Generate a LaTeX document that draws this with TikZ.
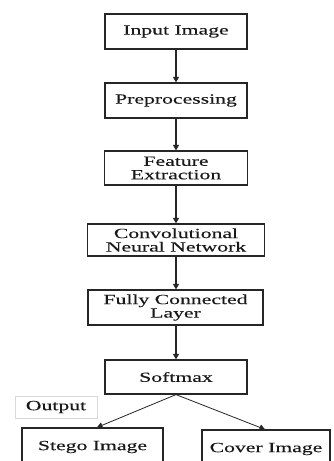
\documentclass[tikz,border=0pt]{standalone}
\usepackage{fontspec}
\setmainfont{Liberation Serif}[FakeStretch=1.55, FakeBold=0.2]
\usetikzlibrary{arrows.meta}

\tikzset{
  stage/.style={draw=black!85, line width=1.2pt, fill=white, inner sep=0pt,
    align=center, font=\fontsize{14}{13.5}\selectfont, text=black!90},
  flow/.style={draw=black!85, line width=1.2pt,
    -{Triangle[length=5.5pt,width=6pt]}},
  tag/.style={draw=black!15, line width=0.6pt, inner sep=0pt,
    font=\fontsize{14}{14}\selectfont, text=black!90}
}

\begin{document}
\begin{tikzpicture}[x=1pt, y=-1pt]
  % page frame
  \useasboundingbox (0,0) rectangle (333,461);
  \clip (0,0) rectangle (333,461);
  \fill[white] (0,0) rectangle (333,461);

  % pipeline stages
  \node[stage, minimum width=142pt, minimum height=35pt] (input) at (176,31.5) {Input Image};
  \node[stage, minimum width=142pt, minimum height=35pt] (prep)  at (176,100.5) {Preprocessing};
  \node[stage, minimum width=143pt, minimum height=34pt] (feat)  at (176,168) {Feature\\Extraction};
  \node[stage, minimum width=177pt, minimum height=32pt] (cnn)   at (176,240) {Convolutional\\Neural Network};
  \node[stage, minimum width=175pt, minimum height=35pt] (fc)    at (175.5,307.5) {Fully Connected\\Layer};
  \node[stage, minimum width=142pt, minimum height=34pt] (soft)  at (176,377) {Softmax};

  % output classes
  \node[tag, minimum width=82pt, minimum height=22pt] (out) at (56,407) {Output};
  \node[stage, minimum width=141pt, minimum height=38pt] (stego) at (92.5,447) {Stego Image};
  \node[stage, minimum width=128pt, minimum height=38pt] (cover) at (266,449) {Cover Image};

  % connectors
  \draw[flow] (input) -- (prep);
  \draw[flow] (prep) -- (feat);
  \draw[flow] (feat) -- (cnn);
  \draw[flow] (cnn) -- (fc.north -| cnn.south);
  \draw[flow] (fc.south -| soft.north) -- (soft);
  \draw[flow, line width=0.8pt] (soft.south) -- ([xshift=4.5pt]stego.north);
  \draw[flow, line width=0.8pt] (soft.south) -- ([xshift=-1pt]cover.north);
\end{tikzpicture}
\end{document}
